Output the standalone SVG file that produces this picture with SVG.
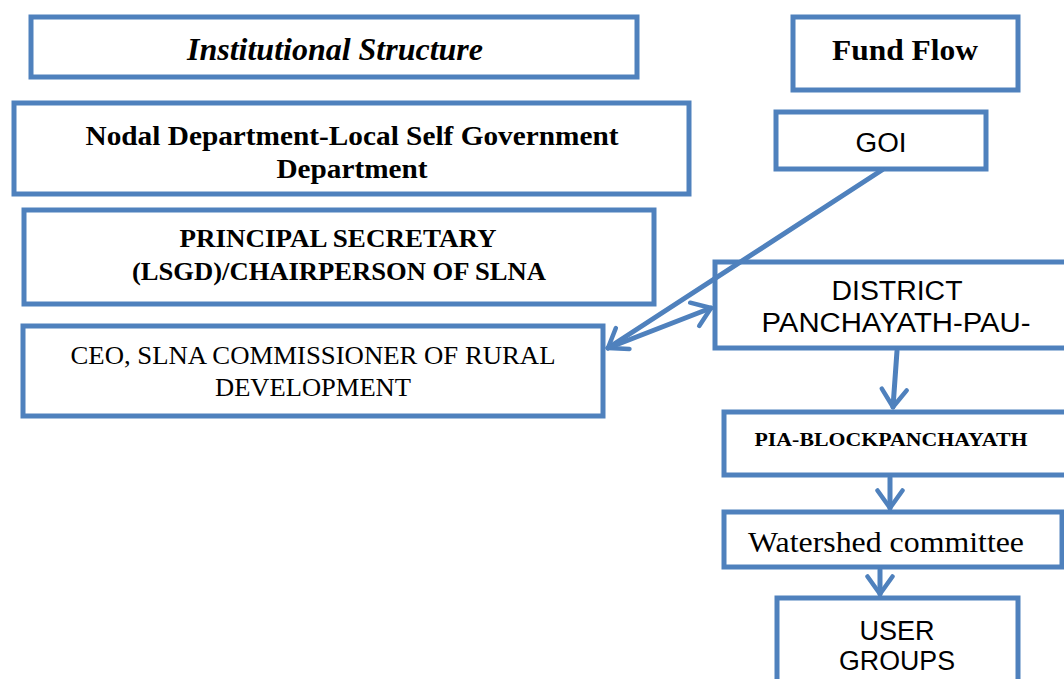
<svg xmlns="http://www.w3.org/2000/svg" width="1064" height="679" viewBox="0 0 1064 679">
  <style>
    .box { fill: #ffffff; stroke: #4F81BD; stroke-width: 5; }
    .edge { fill: none; stroke: #4F81BD; stroke-width: 5; stroke-linecap: round; }
    .serif { font-family: "Liberation Serif", "Times New Roman", serif; fill: #000; text-anchor: middle; }
    .sans { font-family: "Liberation Sans", Arial, sans-serif; fill: #000; text-anchor: middle; }
  </style>
  <defs>
    <marker id="chev" viewBox="0 0 12 12" refX="10" refY="6" markerWidth="6" markerHeight="6" markerUnits="strokeWidth" orient="auto">
      <path d="M3,1 L10,6 L3,11" fill="none" stroke="#4F81BD" stroke-width="1.8" stroke-linecap="round" stroke-linejoin="round"/>
    </marker>
  </defs>
  <rect width="1064" height="679" fill="#ffffff"/>

  <!-- left column: institutional structure -->
  <g id="institutional-structure">
    <rect class="box" x="31" y="17" width="606" height="60"/>
    <text class="serif" x="335" y="60" font-size="31" font-weight="bold" font-style="italic" textLength="296" lengthAdjust="spacingAndGlyphs">Institutional Structure</text>
  </g>
  <g id="nodal-department">
    <rect class="box" x="14" y="103" width="675" height="91"/>
    <text class="serif" x="352" y="145" font-size="27" font-weight="bold" textLength="533" lengthAdjust="spacingAndGlyphs">Nodal Department-Local Self Government</text>
    <text class="serif" x="352" y="178" font-size="27" font-weight="bold" textLength="151" lengthAdjust="spacingAndGlyphs">Department</text>
  </g>
  <g id="principal-secretary">
    <rect class="box" x="24" y="210" width="630" height="94"/>
    <text class="serif" x="338" y="247" font-size="25" font-weight="bold" textLength="317" lengthAdjust="spacingAndGlyphs">PRINCIPAL SECRETARY</text>
    <text class="serif" x="339" y="280" font-size="25" font-weight="bold" textLength="414" lengthAdjust="spacingAndGlyphs">(LSGD)/CHAIRPERSON OF SLNA</text>
  </g>
  <g id="ceo-slna">
    <rect class="box" x="23" y="326" width="580" height="90"/>
    <text class="serif" x="313" y="364" font-size="25" textLength="485" lengthAdjust="spacingAndGlyphs">CEO, SLNA COMMISSIONER OF RURAL</text>
    <text class="serif" x="313" y="396" font-size="25" textLength="196" lengthAdjust="spacingAndGlyphs">DEVELOPMENT</text>
  </g>

  <!-- right column: fund flow -->
  <g id="fund-flow">
    <rect class="box" x="793" y="17" width="225" height="73"/>
    <text class="serif" x="905" y="60" font-size="30" font-weight="bold" textLength="146" lengthAdjust="spacingAndGlyphs">Fund Flow</text>
  </g>
  <g id="goi">
    <rect class="box" x="776" y="112" width="210" height="57"/>
    <text class="sans" x="881" y="152" font-size="27" textLength="51" lengthAdjust="spacingAndGlyphs">GOI</text>
  </g>
  <g id="district-panchayath">
    <rect class="box" x="715" y="262" width="360" height="86"/>
    <text class="sans" x="897" y="300" font-size="27" textLength="131" lengthAdjust="spacingAndGlyphs">DISTRICT</text>
    <text class="sans" x="896" y="332" font-size="27" textLength="269" lengthAdjust="spacingAndGlyphs">PANCHAYATH-PAU-</text>
  </g>
  <g id="pia-block">
    <rect class="box" x="724" y="412" width="350" height="63"/>
    <text class="serif" x="891" y="446" font-size="19" font-weight="bold" textLength="273" lengthAdjust="spacingAndGlyphs">PIA-BLOCKPANCHAYATH</text>
  </g>
  <g id="watershed-committee">
    <rect class="box" x="724" y="512" width="338" height="55"/>
    <text class="serif" x="886" y="552" font-size="30" textLength="276" lengthAdjust="spacingAndGlyphs">Watershed committee</text>
  </g>
  <g id="user-groups">
    <rect class="box" x="777" y="598" width="241" height="90"/>
    <text class="sans" x="897" y="640" font-size="27" textLength="75" lengthAdjust="spacingAndGlyphs">USER</text>
    <text class="sans" x="897" y="670" font-size="27" textLength="116" lengthAdjust="spacingAndGlyphs">GROUPS</text>
  </g>

  <!-- connectors -->
  <g id="connectors">
    <line class="edge" x1="882" y1="170" x2="608" y2="348" marker-end="url(#chev)"/>
    <line class="edge" x1="608" y1="348" x2="711" y2="308" marker-end="url(#chev)"/>
    <line class="edge" x1="897" y1="351" x2="893" y2="407" marker-end="url(#chev)"/>
    <line class="edge" x1="890" y1="478" x2="890" y2="508" marker-end="url(#chev)"/>
    <line class="edge" x1="880" y1="570" x2="880" y2="594" marker-end="url(#chev)"/>
  </g>
</svg>
